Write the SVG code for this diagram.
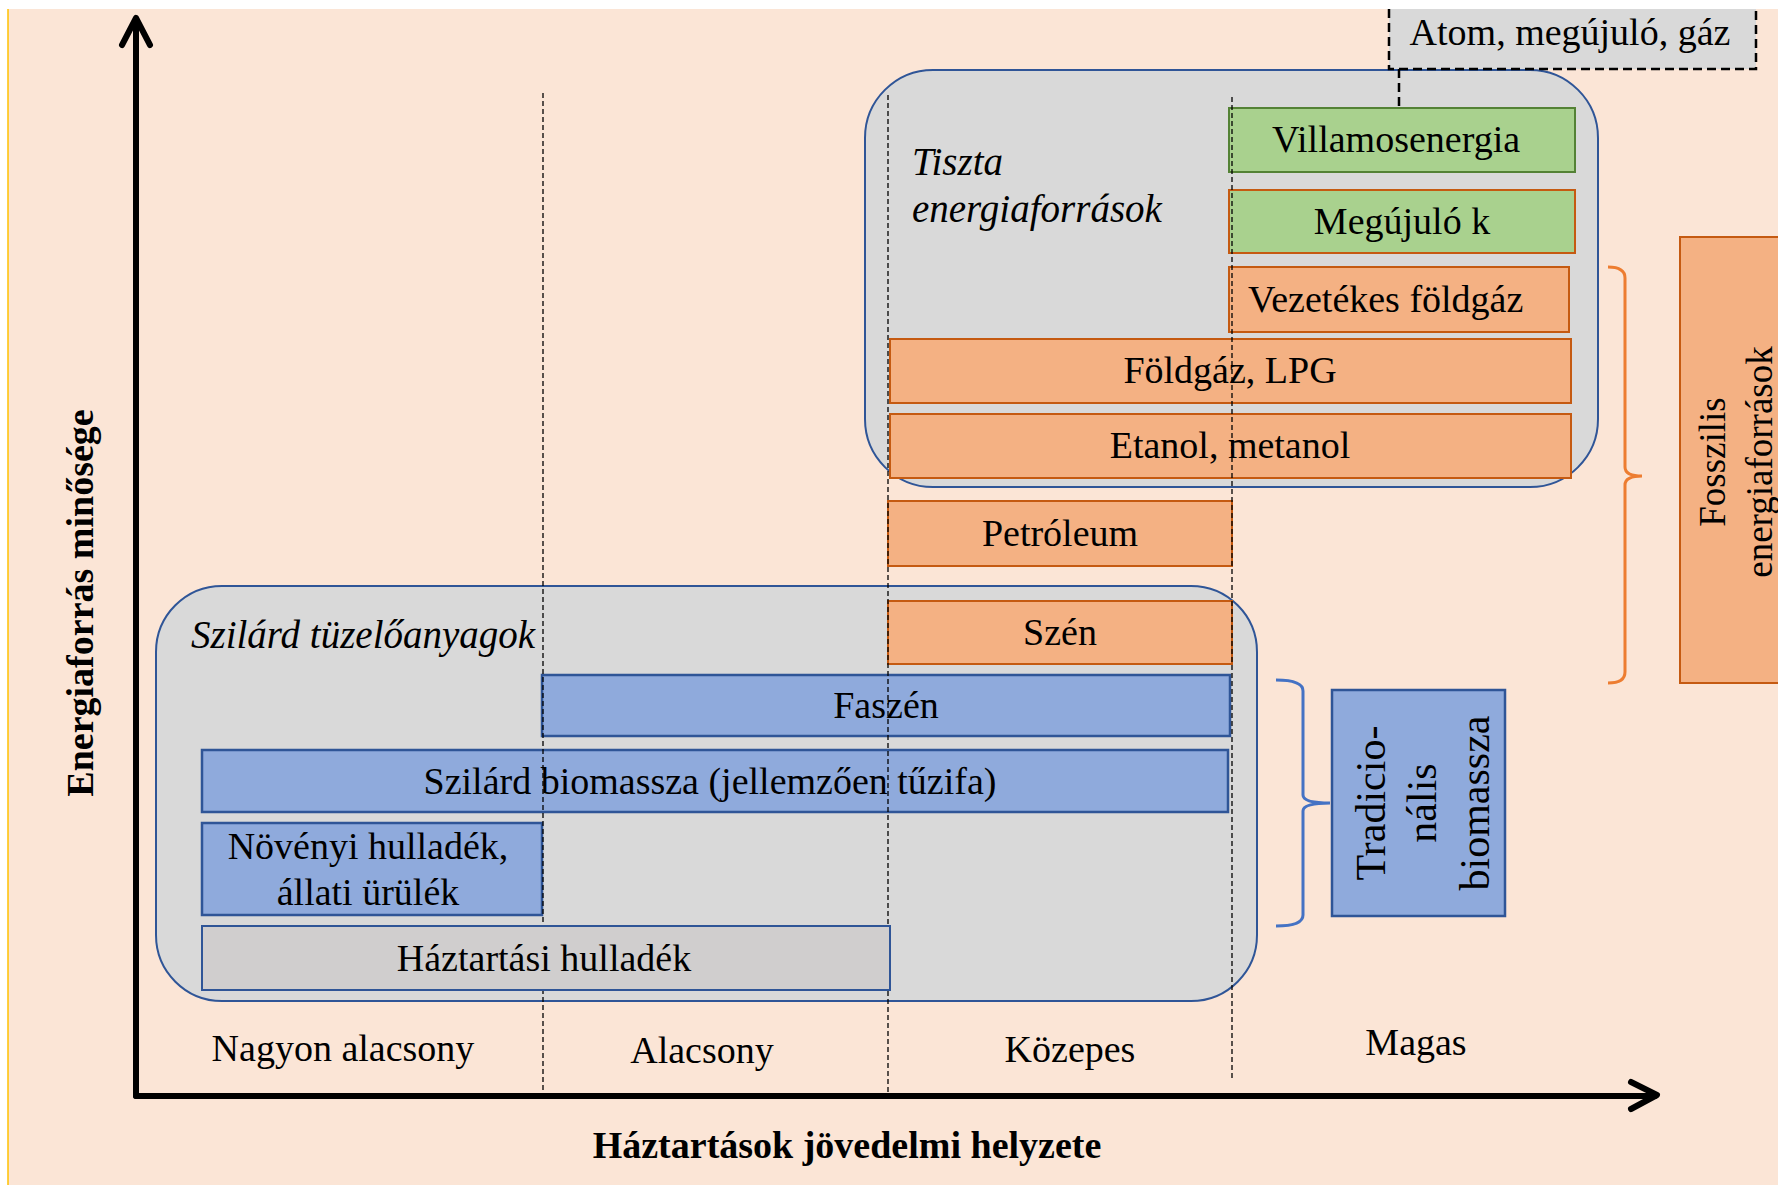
<svg xmlns="http://www.w3.org/2000/svg" width="1778" height="1185" viewBox="0 0 1778 1185">
<style>
text{font-family:"Liberation Serif","Times New Roman",serif;fill:#000}
.t{font-size:38px;text-anchor:middle}
.it{font-size:39px;font-style:italic}
.b{font-weight:bold;font-size:38px;text-anchor:middle}
.cont{fill:#D9D9D9;stroke:#2F5597;stroke-width:2}
.or{fill:#F4B183;stroke:#C55A11;stroke-width:2}
.gr{fill:#A9D18E;stroke:#548235;stroke-width:2}
.gro{fill:#A9D18E;stroke:#C55A11;stroke-width:2}
.bl{fill:#8FAADC;stroke:#2F5597;stroke-width:2.5}
.dash{stroke:#000;stroke-width:1.3;stroke-dasharray:5 3;fill:none}
.dash2{stroke:#000;stroke-width:2.5;stroke-dasharray:9 5;fill:none}
.ax{stroke:#000;stroke-width:6;fill:none;stroke-linecap:round;stroke-linejoin:round}
</style>
<rect x="0" y="0" width="1778" height="1185" fill="#FFFFFF"/>
<rect x="8" y="9" width="1770" height="1176" fill="#FBE5D6"/>
<line x1="8" y1="9" x2="8" y2="1185" stroke="#FFC000" stroke-width="1.5"/>

<g id="tiszta-container">
<rect class="cont" x="865" y="70" width="733" height="417" rx="68" ry="68"/>
<text class="it" x="912" y="175">Tiszta</text>
<text class="it" x="912" y="222">energiaforrások</text>
</g>
<g id="szilard-container">
<rect class="cont" x="156" y="586" width="1101" height="415" rx="66" ry="66"/>
<text class="it" x="191" y="648">Szilárd tüzelőanyagok</text>
</g>

<g id="atom">
<rect x="1389" y="9" width="367" height="60" fill="#D9D9D9"/>
<path class="dash2" d="M1389,9 V69 H1756 V9"/>
<text class="t" x="1570" y="45">Atom, megújuló, gáz</text>
</g>

<g id="villamosenergia">
<rect class="gr" x="1229" y="108" width="346" height="64"/>
<text class="t" x="1396" y="152">Villamosenergia</text>
</g>
<g id="megujulok">
<rect class="gro" x="1229" y="190" width="346" height="63"/>
<text class="t" x="1402" y="234">Megújuló k</text>
</g>
<g id="vezetekes">
<rect class="or" x="1229" y="267" width="340" height="65"/>
<text style="font-size:38px" x="1248" y="312">Vezetékes földgáz</text>
</g>
<g id="foldgaz">
<rect class="or" x="890" y="339" width="681" height="64"/>
<text class="t" x="1230" y="383">Földgáz, LPG</text>
</g>
<g id="etanol">
<rect class="or" x="890" y="414" width="681" height="64"/>
<text class="t" x="1230" y="458">Etanol, metanol</text>
</g>
<g id="petroleum">
<rect class="or" x="888" y="501" width="344" height="65"/>
<text class="t" x="1060" y="546">Petróleum</text>
</g>
<g id="szen">
<rect class="or" x="888" y="601" width="344" height="63"/>
<text class="t" x="1060" y="645">Szén</text>
</g>
<g id="faszen">
<rect class="bl" x="542" y="675" width="688" height="61"/>
<text class="t" x="886" y="718">Faszén</text>
</g>
<g id="szilard-biomassza">
<rect class="bl" x="202" y="750" width="1026" height="62"/>
<text class="t" x="710" y="794">Szilárd biomassza (jellemzően tűzifa)</text>
</g>
<g id="novenyi">
<rect class="bl" x="202" y="823" width="340" height="92"/>
<text class="t" x="368" y="859">Növényi hulladék,</text>
<text class="t" x="368" y="905">állati ürülék</text>
</g>

<g id="connectors">
<line class="dash" x1="543" y1="93" x2="543" y2="1094"/>
<line class="dash" x1="888" y1="95" x2="888" y2="1094"/>
<line class="dash" x1="1232" y1="97" x2="1232" y2="1080"/>
<path class="dash2" d="M1399,69 V108"/>
<path d="M1608,267 Q1625,267 1625,278 L1625,467 Q1625,476 1642,476 Q1625,476 1625,485 L1625,672 Q1625,683 1608,683" fill="none" stroke="#ED7D31" stroke-width="3"/>
<path d="M1276,680 Q1303,680 1303,691 L1303,795 Q1303,803 1330,803 Q1303,803 1303,811 L1303,915 Q1303,926 1276,926" fill="none" stroke="#4472C4" stroke-width="3"/>
</g>

<g id="haztartasi">
<rect x="202" y="926" width="688" height="64" fill="#D0CECE" stroke="#2F5597" stroke-width="2"/>
<text class="t" x="544" y="971">Háztartási hulladék</text>
</g>

<g id="tradicionalis">
<rect class="bl" x="1332" y="690" width="173" height="226" stroke-width="2"/>
<text style="font-size:42px;text-anchor:middle" transform="translate(1385,803) rotate(-90)">Tradicio-</text>
<text style="font-size:42px;text-anchor:middle" transform="translate(1436,803) rotate(-90)">nális</text>
<text style="font-size:42px;text-anchor:middle" transform="translate(1489,803) rotate(-90)">biomassza</text>
</g>

<g id="fosszilis">
<rect class="or" x="1680" y="237" width="110" height="446"/>
<text style="font-size:37px;text-anchor:middle" transform="translate(1725,462) rotate(-90)">Fosszilis</text>
<text style="font-size:37px;text-anchor:middle" transform="translate(1772,462) rotate(-90)">energiaforrások</text>
</g>

<g id="axes">
<path class="ax" d="M136,1096 V20"/>
<path class="ax" d="M122,45 L136,18 L150,45"/>
<path class="ax" d="M136,1096 H1655"/>
<path class="ax" d="M1631,1082 L1657,1095 L1631,1109"/>
<text class="b" transform="translate(93,603) rotate(-90)">Energiaforrás minősége</text>
<text class="b" x="847" y="1158">Háztartások jövedelmi helyzete</text>
</g>

<g id="labels">
<text class="t" x="343" y="1061">Nagyon alacsony</text>
<text class="t" x="702" y="1063">Alacsony</text>
<text class="t" x="1070" y="1062">Közepes</text>
<text class="t" x="1416" y="1055">Magas</text>
</g>
</svg>
